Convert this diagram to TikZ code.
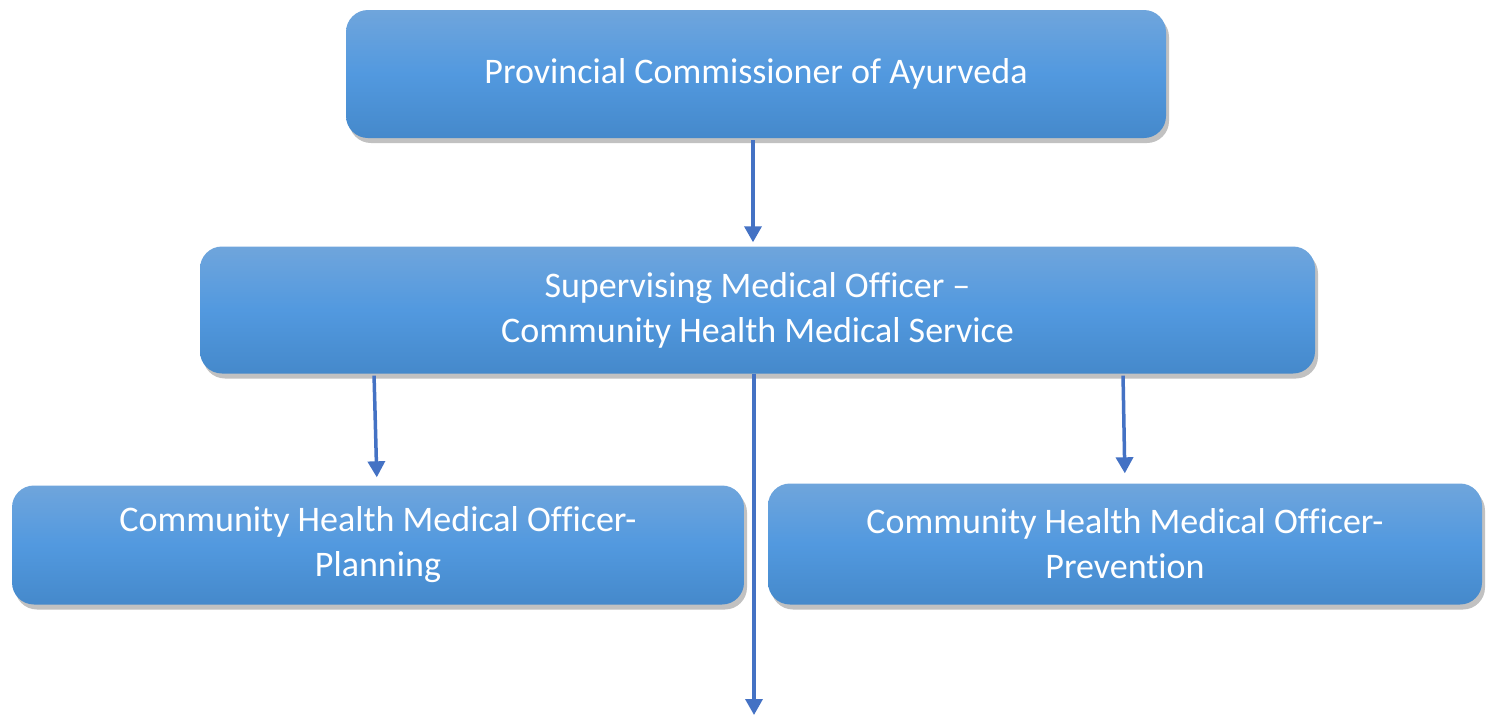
\documentclass[tikz,border=0pt]{standalone}
\usepackage{fontspec}
\setmainfont[Ligatures=NoCommon]{Carlito}
\usetikzlibrary{arrows.meta,shadows}
\definecolor{btop}{HTML}{6FA5DC}
\definecolor{bmid}{HTML}{5299DF}
\definecolor{bbot}{HTML}{4589CB}
\definecolor{arrc}{HTML}{4472C4}
\begin{document}
\begin{tikzpicture}[x=1pt,y=-1pt,
  orgbox/.style={rectangle, rounded corners=22pt, inner sep=0pt,
    top color=btop, bottom color=bbot, middle color=bmid,
    drop shadow={shadow xshift=3pt, shadow yshift=-5pt, opacity=0.35, fill=black!70},
    text=white, align=center, font=\fontsize{36}{45}\selectfont},
  arr/.style={draw=arrc, line width=3.5pt, -{Triangle[width=17pt,length=16pt]}}]
\useasboundingbox (0,0) rectangle (1491,715);
\node[orgbox, minimum width=820pt, minimum height=128pt] (top) at (756,74) {\raisebox{-3pt}{Provincial Commissioner of Ayurveda}};
\node[orgbox, minimum width=1115pt, minimum height=127pt] (mid) at (757.5,310) {Supervising Medical Officer –\\Community Health Medical Service};
\node[orgbox, minimum width=732pt, minimum height=119pt] (left) at (378,545) {Community Health Medical Officer-\\Planning};
\node[orgbox, minimum width=714pt, minimum height=121pt] (right) at (1125,544) {Community Health Medical Officer-\\Prevention};
\coordinate (bot) at (754,715);
\draw[arr, shorten <=2pt, shorten >=4pt] (top.south -| 753,0) -- (mid.north -| 753,0);
\draw[arr, shorten <=2pt, shorten >=8pt] (mid.south -| 374,0) -- (left.north -| 377,0);
\draw[arr, shorten <=2pt, shorten >=10pt] (mid.south -| 1123,0) -- (right.north -| 1125,0);
\draw[arr] (mid.south -| 754,0) -- (bot);
\end{tikzpicture}
\end{document}
